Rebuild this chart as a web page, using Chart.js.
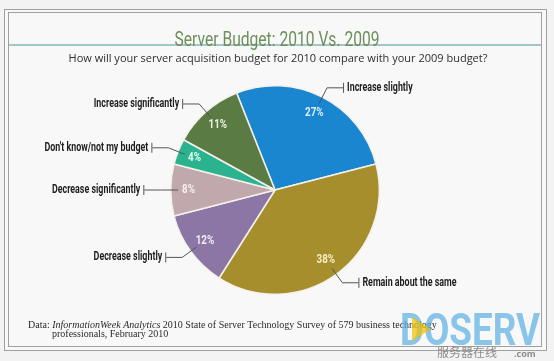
<!DOCTYPE html>
<html>
<head>
<meta charset="utf-8">
<script src="https://cdn.jsdelivr.net/npm/chart.js@4"></script>
<style>
  html, body { margin: 0; padding: 0; background: #f3f3f3; }
  #budget-canvas { display: block; }
</style>
</head>
<body>
<canvas id="budget-canvas" width="554" height="361"></canvas>
<script>
const categories = ['Increase slightly', 'Remain about the same', 'Decrease slightly',
  'Decrease significantly', "Don't know/not my budget", 'Increase significantly']
const shares = [27, 38, 12, 8, 4, 11]
const sliceColors = ['#1a86cf', '#a68e2c', '#8b76a6', '#c1a8ad', '#2bb38f', '#5b7b44']
const pctColors = ['#d9efff', '#f6edc6', '#f1ecf8', '#f6eef0', '#e6fff6', '#e9f3df']

const title = 'Server Budget: 2010 Vs. 2009'
const subtitle = 'How will your server acquisition budget for 2010 compare with your 2009 budget?'
const source = ['Data: ', 'InformationWeek Analytics', ' 2010 State of Server Technology Survey of 579 business technology']
const source2 = 'professionals, February 2010'

// draw text squeezed horizontally (the original uses a condensed face)
function squeezed(c, text, x, y, sx, align) {
	c.save()
	c.translate(x, y)
	c.scale(sx, 1)
	c.textAlign = align
	c.fillText(text, 0, 0)
	c.restore()
}

// frame, heading and footer
const framePlugin = {
	id: 'frame',
	beforeDraw(chart) {
		const c = chart.ctx
		c.save()
		c.fillStyle = '#f3f3f3'
		c.fillRect(0, 0, chart.width, chart.height)
		c.fillStyle = '#f8f8f8'
		c.fillRect(5, 9, 541, 342)
		c.strokeStyle = '#a0a0a0'
		c.lineWidth = 1
		c.strokeRect(4.5, 9.5, 542, 341)
		c.strokeRect(8.5, 12.5, 533, 334)

		c.strokeStyle = '#86b8b6'
		c.lineWidth = 1.5
		c.beginPath()
		c.moveTo(9, 45)
		c.lineTo(541, 45)
		c.stroke()

		c.textBaseline = 'alphabetic'
		c.fillStyle = '#6e8f5c'
		c.font = '21px Roboto, sans-serif'
		squeezed(c, title, 277, 46, 205 / c.measureText(title).width, 'center')

		c.fillStyle = '#2e2e2e'
		c.font = '11px "Open Sans", sans-serif'
		c.textAlign = 'center'
		c.fillText(subtitle, 278, 62)

		// footer
		c.textAlign = 'left'
		c.fillStyle = '#2a2a2a'
		let x = 28
		const styles = ['10px "Liberation Serif", serif', 'italic 10px "Liberation Serif", serif', '10px "Liberation Serif", serif']
		source.forEach((s, i) => {
			c.font = styles[i]
			c.fillText(s, x, 328)
			x += c.measureText(s).width
		})
		c.font = '10px "Liberation Serif", serif'
		c.fillText(source2, 52, 337)

		// watermark
		c.globalAlpha = 0.7
		c.fillStyle = '#5aaee2'
		c.font = 'bold 45px Roboto, sans-serif'
		squeezed(c, 'DOSERV', 400, 345, 140 / c.measureText('DOSERV').width, 'left')
		c.fillStyle = '#f2c200'
		c.beginPath()
		c.moveTo(412, 317)
		c.lineTo(431, 329)
		c.lineTo(412, 341)
		c.closePath()
		c.fill()
		c.globalAlpha = 1
		c.fillStyle = '#8c8c8c'
		c.font = '12px "Noto Sans CJK SC", sans-serif'
		c.fillText('服务器在线', 437, 357)
		c.font = 'bold 9px "Open Sans", sans-serif'
		c.fillText('.com', 514, 357)
		c.restore()
	}
}

// percent labels inside slices and leader-line category labels outside
const labelPlugin = {
	id: 'sliceLabels',
	afterDatasetsDraw(chart) {
		const c = chart.ctx
		const arcs = chart.getDatasetMeta(0).data
		c.save()
		arcs.forEach((arc, i) => {
			const p = arc.getProps(['x', 'y', 'startAngle', 'endAngle', 'outerRadius'], true)
			const mid = (p.startAngle + p.endAngle) / 2
			const cos = Math.cos(mid), sin = Math.sin(mid)
			const R = p.outerRadius

			c.font = 'bold 12px Roboto, sans-serif'
			c.fillStyle = pctColors[i]
			c.textBaseline = 'middle'
			squeezed(c, shares[i] + '%', p.x + cos * R * 0.83, p.y + sin * R * 0.83, 0.82, 'center')

			const side = cos >= 0 ? 1 : -1
			const x0 = p.x + cos * R * 0.93, y0 = p.y + sin * R * 0.93
			const ex = p.x + cos * R * 1.1, ey = p.y + sin * R * 1.1
			const bx = ex + side * 16
			c.strokeStyle = '#555'
			c.lineWidth = 1
			c.beginPath()
			c.moveTo(x0, y0)
			c.lineTo(ex, ey)
			c.lineTo(bx, ey)
			c.moveTo(bx + 0.5 * side, ey - 5)
			c.lineTo(bx + 0.5 * side, ey + 5)
			c.stroke()

			c.fillStyle = '#1e1e1e'
			squeezed(c, categories[i], bx + side * 4, ey, 0.74, side > 0 ? 'left' : 'right')
		})
		c.restore()
	}
}

const context = document.getElementById('budget-canvas').getContext('2d')

const budgetChart = new Chart(context, {
	type: 'pie',
	data: {
		labels: categories,
		datasets: [{
			data: shares,
			backgroundColor: sliceColors,
			borderColor: '#f4f1ea',
			borderWidth: 1.5
		}]
	},
	options: {
		responsive: false,
		animation: false,
		devicePixelRatio: 1,
		rotation: -21.6,
		layout: { padding: { left: 170, right: 174, top: 85, bottom: 66 } },
		plugins: {
			legend: { display: false },
			tooltip: { enabled: false }
		}
	},
	plugins: [framePlugin, labelPlugin]
})
</script>
</body>
</html>
